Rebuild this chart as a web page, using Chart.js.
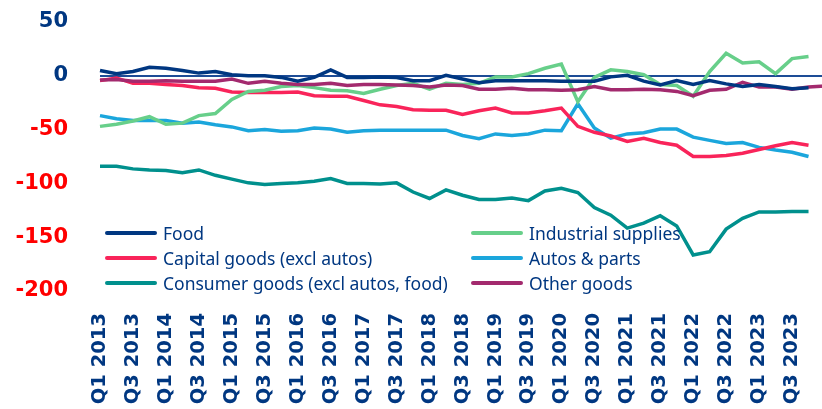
<!DOCTYPE html>
<html>
<head>
<meta charset="utf-8">
<script src="https://cdn.jsdelivr.net/npm/chart.js@4"></script>
<style>
  body { margin: 0; overflow: hidden; background: #fff; }
  #wrap { position: relative; width: 825px; height: 409px; }
  #legend {
    position: absolute; left: 105px; top: 221px;
    display: grid; grid-template-columns: 366px 300px; row-gap: 0.5px;
    font-family: "Noto Sans", sans-serif; font-size: 17.5px; color: #003781;
  }
  .item { display: flex; align-items: center; height: 24.5px; white-space: nowrap; }
  .swatch { width: 52px; height: 4px; border-radius: 2px; margin-right: 6px; }
</style>
</head>
<body>
<div id="wrap">
  <canvas id="chart"></canvas>
  <div id="legend"></div>
</div>
<script>
const quarters = [
  "Q1 2013", "Q2 2013", "Q3 2013", "Q4 2013", "Q1 2014", "Q2 2014", "Q3 2014", "Q4 2014",
  "Q1 2015", "Q2 2015", "Q3 2015", "Q4 2015", "Q1 2016", "Q2 2016", "Q3 2016", "Q4 2016",
  "Q1 2017", "Q2 2017", "Q3 2017", "Q4 2017", "Q1 2018", "Q2 2018", "Q3 2018", "Q4 2018",
  "Q1 2019", "Q2 2019", "Q3 2019", "Q4 2019", "Q1 2020", "Q2 2020", "Q3 2020", "Q4 2020",
  "Q1 2021", "Q2 2021", "Q3 2021", "Q4 2021", "Q1 2022", "Q2 2022", "Q3 2022", "Q4 2022",
  "Q1 2023", "Q2 2023", "Q3 2023", "Q4 2023", "Q1 2024"
];

const food = [5, 2, 4, 8, 7, 5, 2.5, 4, 1, 0, 0, -1.5, -5, -1.5, 5.5, -1.5, -1.5, -1, -1.5, -4.5,
  -4.5, 0.5, -3, -6.5, -4.5, -4.5, -4.5, -4.5, -5, -5, -5, -1, 0.5, -5, -8.5, -4.5, -8, -4.5, -7.5, -10,
  -8, -10, -12, -11];
const capital = [-4.5, -2, -7, -7, -8, -9, -11, -11.5, -15, -15.5, -15.5, -15.5, -15, -18.5, -19, -19, -23, -27, -28.5, -31.5,
  -32, -32, -36, -32.5, -30, -34.5, -34.5, -32.5, -30, -47, -52.5, -56, -61, -58, -62, -64.5, -75, -75, -74, -72,
  -68.5, -65, -62, -64.5];
const consumer = [-84, -84, -86.5, -87.5, -88, -90, -87.5, -92.5, -96, -99.5, -101, -100, -99.5, -98, -95.5, -100, -100, -100.5, -99.5, -108,
  -114, -106, -111, -115, -115, -113.5, -116, -107, -104.5, -108.5, -122.5, -129.5, -141.5, -137, -130, -139.5, -166.5, -163.5, -142.5, -132.5,
  -126.5, -126.5, -126, -126];
const industrial = [-47, -45, -42, -38, -45, -44, -37, -35, -22, -14.5, -13.5, -10, -9, -11, -13.5, -14, -16.5, -12.5, -9, -7,
  -12.5, -7, -8, -7, -1, -1, 2, 7, 11, -24, -1.5, 5.5, 4, 1, -8, -9, -19, 4, 21, 12,
  13, 2, 16, 18];
const autos = [-37, -40, -41.5, -41.5, -41.5, -44, -43, -45.5, -47.5, -51, -50, -51.5, -51, -48.5, -49.5, -52.5, -51, -50.5, -50.5, -50.5,
  -50.5, -50.5, -55.5, -58.5, -54, -55.5, -54, -50.5, -51, -26, -48.5, -58, -54, -53, -49.5, -49.5, -57, -60, -63, -62,
  -66.5, -69, -71, -75];
const other = [-4, -3.5, -5, -5, -4.5, -5, -5, -5, -3, -7, -5, -7, -8, -8, -7, -9, -8, -8, -8.5, -9,
  -10.5, -8.5, -9, -12.5, -12.5, -11.5, -13, -13, -13.5, -13, -10, -13, -13, -12.5, -13, -14.5, -18.5, -13.5, -12.5, -6,
  -10.5, -10.5, -12.5, -10.5, -9.5];

const series = [
  { label: "Food", data: food, color: "#003781" },
  { label: "Industrial supplies", data: industrial, color: "#67cf8a" },
  { label: "Capital goods (excl autos)", data: capital, color: "#f9245a" },
  { label: "Autos & parts", data: autos, color: "#1ba6dc" },
  { label: "Consumer goods (excl autos, food)", data: consumer, color: "#00908d" },
  { label: "Other goods", data: other, color: "#a32a6e" }
];

const legend = document.getElementById("legend");
series.forEach((s) => {
  const item = document.createElement("div");
  item.className = "item";
  item.innerHTML = `<span class="swatch" style="background:${s.color}"></span>${s.label}`;
  legend.appendChild(item);
});

const drawOrder = { "Food": 0, "Other goods": 1, "Industrial supplies": 2, "Capital goods (excl autos)": 3, "Autos & parts": 4, "Consumer goods (excl autos, food)": 5 };

new Chart(document.getElementById("chart"), {
  type: "line",
  data: {
    labels: quarters,
    datasets: series.map((s) => ({
      label: s.label,
      data: s.data,
      borderColor: s.color,
      backgroundColor: s.color,
      borderWidth: 3.5,
      pointRadius: 0,
      tension: 0,
      order: drawOrder[s.label]
    }))
  },
  options: {
    responsive: true,
    maintainAspectRatio: false,
    animation: false,
    layout: { padding: 0 },
    plugins: { legend: { display: false }, tooltip: { enabled: false } },
    scales: {
      x: {
        offset: false,
        grid: { display: false },
        border: { display: false },
        afterFit: (scale) => {
          scale.height = 118;
          scale.paddingLeft = 0;
          scale.paddingRight = 0;
        },
        ticks: {
          autoSkip: false,
          maxRotation: 90,
          minRotation: 90,
          padding: 14,
          color: "#003781",
          font: { family: "DejaVu Sans", size: 19.5, weight: "bold" },
          callback: function (value, index) {
            return index % 2 === 0 && index < 44 ? this.getLabelForValue(value) : "";
          }
        }
      },
      y: {
        min: -200,
        max: 50,
        border: { display: false },
        afterFit: (scale) => {
          scale.width = 100;
          scale.paddingTop = 22;
          scale.paddingBottom = 0;
        },
        grid: {
          drawTicks: false,
          color: (ctx) => (ctx.tick && ctx.tick.value === 0 ? "#1d4c96" : "rgba(0,0,0,0)"),
          lineWidth: 2
        },
        ticks: {
          stepSize: 50,
          padding: 32,
          font: { family: "DejaVu Sans", size: 21, weight: "bold" },
          color: (ctx) => (ctx.tick.value >= 0 ? "#003781" : "#ff0000")
        }
      }
    }
  }
});
</script>
</body>
</html>
